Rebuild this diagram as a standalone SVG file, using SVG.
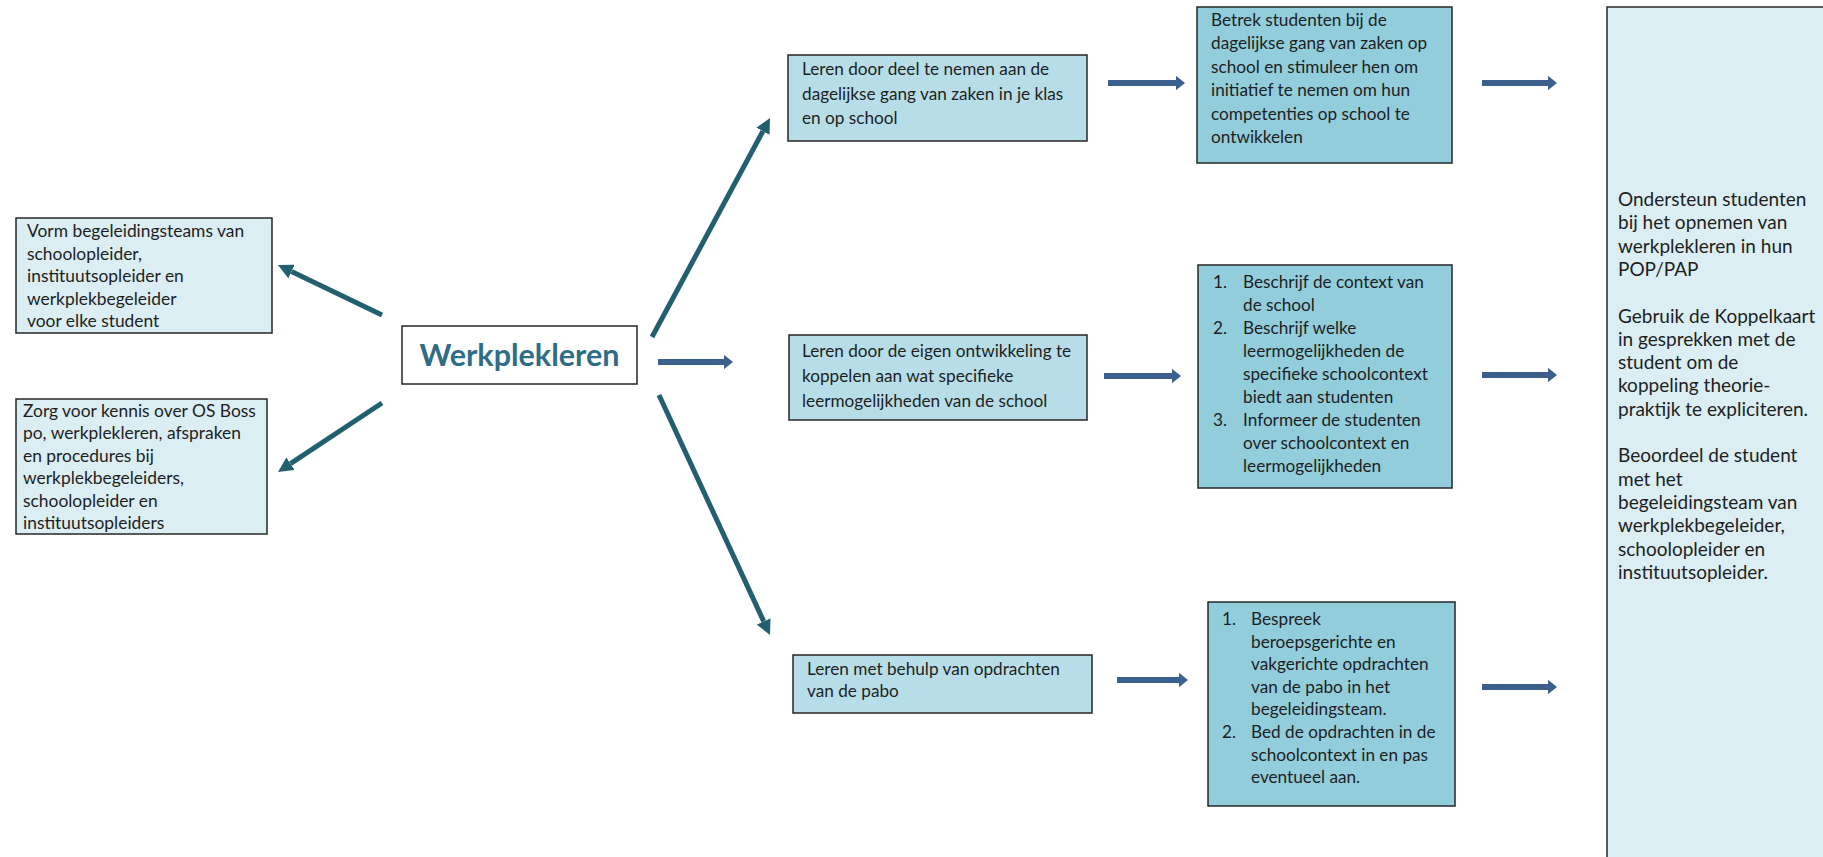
<svg xmlns="http://www.w3.org/2000/svg" width="1823" height="857" viewBox="0 0 1823 857">
<style>
.box{stroke:#262626;stroke-width:1.5}
.pale{fill:#dbeef3}
.light{fill:#b7dee8}
.dark{fill:#92cddc}
.t{font-family:Lato,"Open Sans","Liberation Sans",sans-serif;font-size:17.2px;fill:#1e1e1e}
.tl{font-family:Lato,"Open Sans","Liberation Sans",sans-serif;font-size:17.4px;fill:#1e1e1e}
.tr{font-family:Lato,"Open Sans","Liberation Sans",sans-serif;font-size:19px;fill:#1e1e1e}
.title{font-family:Lato,"Open Sans","Liberation Sans",sans-serif;font-size:30.5px;font-weight:bold;fill:#2f6d86}
.teal{stroke:#225f6f;stroke-width:5;fill:none;marker-end:url(#hTeal)}
.blue{stroke:#3c608c;stroke-width:6;fill:none;marker-end:url(#hBlue)}
</style>
<defs>
<marker id="hTeal" viewBox="0 0 3 3" refX="0" refY="1.5" markerWidth="3" markerHeight="3" orient="auto" markerUnits="strokeWidth">
<path d="M0,0 L3,1.5 L0,3 Z" fill="#225f6f"/>
</marker>
<marker id="hBlue" viewBox="0 0 1.5 2.4" refX="0" refY="1.2" markerWidth="1.5" markerHeight="2.4" orient="auto" markerUnits="strokeWidth">
<path d="M0,0 L1.5,1.2 L0,2.4 Z" fill="#3c608c"/>
</marker>
</defs>
<rect width="1823" height="857" fill="#ffffff"/>

<g id="connectors">
<line class="teal" x1="382" y1="315" x2="291.5" y2="271.5"/>
<line class="teal" x1="382" y1="403" x2="290.5" y2="463.7"/>
<line class="teal" x1="652" y1="337" x2="762.9" y2="131.2"/>
<line class="teal" x1="659" y1="395" x2="763.7" y2="621.4"/>
<line class="blue" x1="658" y1="362" x2="724" y2="362"/>
<line class="blue" x1="1108" y1="83" x2="1176" y2="83"/>
<line class="blue" x1="1482" y1="83" x2="1548" y2="83"/>
<line class="blue" x1="1104" y1="376" x2="1172" y2="376"/>
<line class="blue" x1="1482" y1="375" x2="1548" y2="375"/>
<line class="blue" x1="1117" y1="680" x2="1179" y2="680"/>
<line class="blue" x1="1482" y1="687" x2="1548" y2="687"/>
</g>

<g id="node-werkplekleren">
<rect class="box" x="402" y="326" width="235" height="58" fill="#ffffff"/>
<text class="title" x="519.5" y="366" text-anchor="middle">Werkplekleren</text>
</g>

<g id="node-begeleidingsteams">
<rect class="box pale" x="16" y="218" width="256" height="115"/>
<text class="tl"><tspan x="27" y="237">Vorm begeleidingsteams van</tspan><tspan x="27" y="259.5">schoolopleider,</tspan><tspan x="27" y="282">instituutsopleider en</tspan><tspan x="27" y="304.5">werkplekbegeleider</tspan><tspan x="27" y="327">voor elke student</tspan></text>
</g>

<g id="node-kennis">
<rect class="box pale" x="16" y="399" width="251" height="135"/>
<text class="tl"><tspan x="23" y="417">Zorg voor kennis over OS Boss</tspan><tspan x="23" y="439.4">po, werkplekleren, afspraken</tspan><tspan x="23" y="461.8">en procedures bij</tspan><tspan x="23" y="484.2">werkplekbegeleiders,</tspan><tspan x="23" y="506.6">schoolopleider en</tspan><tspan x="23" y="529">instituutsopleiders</tspan></text>
</g>

<g id="node-leren-dagelijks">
<rect class="box light" x="788" y="55" width="299" height="86"/>
<text class="t"><tspan x="802" y="75">Leren door deel te nemen aan de</tspan><tspan x="802" y="99.5">dagelijkse gang van zaken in je klas</tspan><tspan x="802" y="124">en op school</tspan></text>
</g>

<g id="node-betrek">
<rect class="box dark" x="1197" y="7" width="255" height="156"/>
<text class="t"><tspan x="1211" y="26">Betrek studenten bij de</tspan><tspan x="1211" y="49.4">dagelijkse gang van zaken op</tspan><tspan x="1211" y="72.8">school en stimuleer hen om</tspan><tspan x="1211" y="96.2">initiatief te nemen om hun</tspan><tspan x="1211" y="119.6">competenties op school te</tspan><tspan x="1211" y="143">ontwikkelen</tspan></text>
</g>

<g id="node-leren-ontwikkeling">
<rect class="box light" x="789" y="335" width="298" height="85"/>
<text class="t"><tspan x="802" y="357">Leren door de eigen ontwikkeling te</tspan><tspan x="802" y="382">koppelen aan wat specifieke</tspan><tspan x="802" y="407">leermogelijkheden van de school</tspan></text>
</g>

<g id="node-beschrijf">
<rect class="box dark" x="1198" y="265" width="254" height="223"/>
<text class="t"><tspan x="1213" y="288">1.</tspan><tspan x="1243" y="288">Beschrijf de context van</tspan><tspan x="1243" y="311">de school</tspan><tspan x="1213" y="334">2.</tspan><tspan x="1243" y="334">Beschrijf welke</tspan><tspan x="1243" y="357">leermogelijkheden de</tspan><tspan x="1243" y="380">specifieke schoolcontext</tspan><tspan x="1243" y="403">biedt aan studenten</tspan><tspan x="1213" y="426">3.</tspan><tspan x="1243" y="426">Informeer de studenten</tspan><tspan x="1243" y="449">over schoolcontext en</tspan><tspan x="1243" y="472">leermogelijkheden</tspan></text>
</g>

<g id="node-leren-opdrachten">
<rect class="box light" x="793" y="655" width="299" height="58"/>
<text class="t"><tspan x="807" y="675">Leren met behulp van opdrachten</tspan><tspan x="807" y="697">van de pabo</tspan></text>
</g>

<g id="node-bespreek">
<rect class="box dark" x="1208" y="602" width="247" height="204"/>
<text class="t"><tspan x="1222" y="625">1.</tspan><tspan x="1251" y="625">Bespreek</tspan><tspan x="1251" y="647.6">beroepsgerichte en</tspan><tspan x="1251" y="670.2">vakgerichte opdrachten</tspan><tspan x="1251" y="692.8">van de pabo in het</tspan><tspan x="1251" y="715.4">begeleidingsteam.</tspan><tspan x="1222" y="738">2.</tspan><tspan x="1251" y="738">Bed de opdrachten in de</tspan><tspan x="1251" y="760.6">schoolcontext in en pas</tspan><tspan x="1251" y="783.2">eventueel aan.</tspan></text>
</g>

<g id="node-ondersteun">
<rect class="box pale" x="1607" y="7" width="230" height="860" stroke-width="2.5"/>
<text class="tr"><tspan x="1618" y="206">Ondersteun studenten</tspan><tspan x="1618" y="229.3">bij het opnemen van</tspan><tspan x="1618" y="252.6">werkplekleren in hun</tspan><tspan x="1618" y="275.9">POP/PAP</tspan><tspan x="1618" y="322.5">Gebruik de Koppelkaart</tspan><tspan x="1618" y="345.8">in gesprekken met de</tspan><tspan x="1618" y="369.1">student om de</tspan><tspan x="1618" y="392.4">koppeling theorie-</tspan><tspan x="1618" y="415.7">praktijk te expliciteren.</tspan><tspan x="1618" y="462.3">Beoordeel de student</tspan><tspan x="1618" y="485.6">met het</tspan><tspan x="1618" y="508.9">begeleidingsteam van</tspan><tspan x="1618" y="532.2">werkplekbegeleider,</tspan><tspan x="1618" y="555.5">schoolopleider en</tspan><tspan x="1618" y="578.8">instituutsopleider.</tspan></text>
</g>
</svg>
